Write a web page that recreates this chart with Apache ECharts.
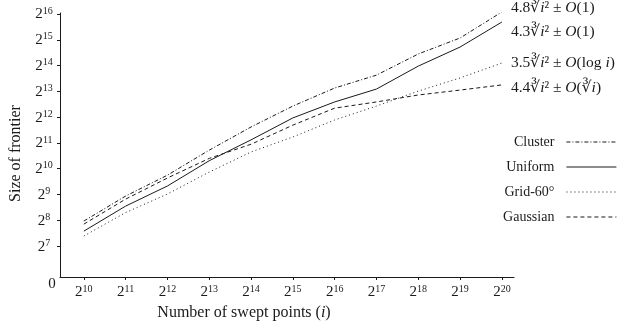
<!DOCTYPE html>
<html>
<head>
<meta charset="utf-8">
<script src="https://cdn.jsdelivr.net/npm/echarts@6/dist/echarts.min.js"></script>
<style>
html, body { margin: 0; padding: 0; background: #fff; }
#chart { width: 626px; height: 329px; }
</style>
</head>
<body>
<div id="chart"></div>
<script>
// x = log2 of swept points, y = log2 of frontier size
const xExp = [10, 11, 12, 13, 14, 15, 16, 17, 18, 19, 20]
const yTicks = [7, 8, 9, 10, 11, 12, 13, 14, 15, 16]
const clusterY = [7.97, 8.94, 9.75, 10.72, 11.62, 12.43, 13.13, 13.63, 14.45, 15.07, 16.08]
const uniformY = [7.58, 8.55, 9.33, 10.31, 11.12, 11.97, 12.59, 13.09, 13.98, 14.72, 15.69]
const gridY = [7.39, 8.30, 9.02, 9.87, 10.65, 11.23, 11.89, 12.43, 13.01, 13.52, 14.10]
const gaussianY = [7.85, 8.82, 9.64, 10.40, 10.95, 11.69, 12.35, 12.59, 12.86, 13.05, 13.25]
const seriesNames = ['Cluster', 'Uniform', 'Grid-60°', 'Gaussian']
const fitLabels = [
    '{n|4.8∛}{i|i}{n|² ± }{i|O}{n|(1)}',
    '{n|4.3∛}{i|i}{n|² ± }{i|O}{n|(1)}',
    '{n|3.5∛}{i|i}{n|² ± }{i|O}{n|(log }{i|i}{n|)}',
    '{n|4.4∛}{i|i}{n|² ± }{i|O}{n|(∛}{i|i}{n|)}'
]

const FONT = '"Liberation Serif", "DejaVu Serif", serif'
const INK = '#1a1a1a'

const yMin = 5.8

const powRich = {
    b: { fontFamily: FONT, fontSize: 15, color: INK, lineHeight: 16, verticalAlign: 'bottom' },
    s: { fontFamily: FONT, fontSize: 10, color: INK, lineHeight: 10, verticalAlign: 'top' },
    z: { fontFamily: FONT, fontSize: 15, color: INK, padding: [14, 0, 0, 16] }
}
const fitRich = {
    n: { fontFamily: FONT, fontSize: 15.5, color: INK },
    i: { fontFamily: FONT, fontSize: 15.5, color: INK, fontStyle: 'italic' }
}
const nameRich = {
    n: { fontFamily: FONT, fontSize: 16, color: INK },
    i: { fontFamily: FONT, fontSize: 16, color: INK, fontStyle: 'italic' }
}

function pairs(ys) {
    return xExp.map((x, k) => [x, ys[k]])
}

const dashes = [[4, 2, 1, 2], 'solid', [1, 3], [4, 3]]
const labelOffsets = [[0, -4], [0, 10], [0, 0], [0, 3]]
const allY = [clusterY, uniformY, gridY, gaussianY]

const chart = echarts.init(document.getElementById('chart'))
const option = {
    animation: false,
    backgroundColor: '#FFFFFF',
    grid: {
        left: 60,
        right: 112,
        top: 13,
        bottom: 52
    },
    legend: {
        data: seriesNames,
        orient: 'vertical',
        right: 4,
        top: 130,
        align: 'right',
        itemWidth: 50,
        itemHeight: 10,
        itemGap: 11,
        // hide the symbol drawn in the middle of the legend line
        itemStyle: { opacity: 0 },
        lineStyle: { width: 1.2 },
        textStyle: {
            fontFamily: FONT,
            fontSize: 14,
            lineHeight: 14,
            color: INK,
            padding: [0, 7, 0, 0]
        }
    },
    xAxis: {
        type: 'value',
        min: 9.43,
        max: 20.29,
        name: '{n|Number of swept points (}{i|i}{n|)}',
        nameLocation: 'middle',
        nameGap: 25,
        nameTextStyle: {
            padding: [0, 86, 0, 0],
            rich: nameRich
        },
        axisLine: { lineStyle: { color: INK, width: 1 } },
        axisTick: { customValues: xExp, length: 3, lineStyle: { color: INK } },
        axisLabel: {
            customValues: xExp,
            margin: 7,
            formatter: v => '{b|2}{s|' + v + '}',
            rich: powRich
        },
        splitLine: { show: false }
    },
    yAxis: {
        type: 'value',
        min: yMin,
        max: 16.04,
        name: 'Size of frontier',
        nameLocation: 'middle',
        nameGap: 36,
        nameTextStyle: {
            fontFamily: FONT,
            fontSize: 16,
            color: INK,
            padding: [0, 17, 0, 0]
        },
        axisLine: { show: true, lineStyle: { color: INK, width: 1 } },
        axisTick: { show: true, customValues: yTicks, length: 3, lineStyle: { color: INK } },
        axisLabel: {
            customValues: [yMin].concat(yTicks),
            margin: 16,
            align: 'center',
            formatter: v => v === yMin ? '{z|0}' : '{b|2}{s|' + v + '}',
            rich: powRich
        },
        splitLine: { show: false }
    },
    series: seriesNames.map((name, k) => ({
        name: name,
        type: 'line',
        data: pairs(allY[k]),
        symbol: 'none',
        lineStyle: { color: INK, width: 1, type: dashes[k] },
        itemStyle: { color: INK },
        endLabel: {
            show: true,
            distance: 9,
            offset: labelOffsets[k],
            formatter: () => fitLabels[k],
            rich: fitRich
        }
    }))
}
chart.setOption(option)
window.addEventListener('resize', function() {
    chart.resize()
})
</script>
</body>
</html>
